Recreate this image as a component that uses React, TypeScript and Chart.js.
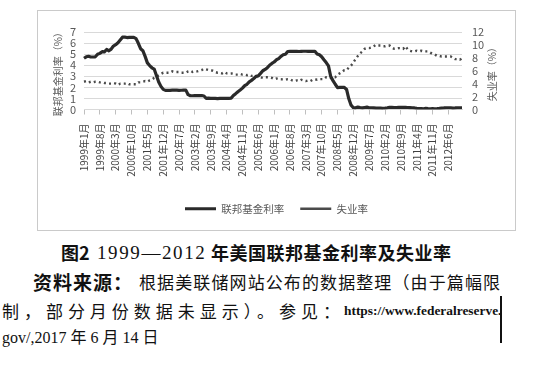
import React, { useEffect, useRef } from "react";
import { Chart, registerables } from "chart.js";

Chart.register(...registerables);

const FONT = "'Noto Sans CJK SC', 'Noto Sans', sans-serif";

// Categories: monthly, 1999-01 .. 2012-12 (a label is shown every 7th month)
const startYear = 1999;
const endYear = 2012;
const monthLabels: string[] = [];
for (let y = startYear; y <= endYear; y++) {
  for (let m = 1; m <= 12; m++) monthLabels.push(`${y}年${m}月`);
}
const labelEvery = 7;

// 联邦基金利率 (%)
const fedFundsRate = [
  4.63, 4.76, 4.81, 4.74, 4.74, 4.76, 4.99, 5.07, 5.22, 5.2, 5.42, 5.3,
  5.45, 5.73, 5.85, 6.02, 6.27, 6.53, 6.54, 6.5, 6.52, 6.51, 6.51, 6.4,
  5.98, 5.49, 5.31, 4.8, 4.21, 3.97, 3.77, 3.65, 3.07, 2.49, 2.09, 1.82,
  1.73, 1.74, 1.73, 1.75, 1.75, 1.75, 1.73, 1.74, 1.75, 1.75, 1.34, 1.24,
  1.24, 1.26, 1.25, 1.26, 1.26, 1.22, 1.01, 1.03, 1.01, 1.01, 1.0, 0.98,
  1.0, 1.01, 1.0, 1.0, 1.0, 1.03, 1.26, 1.43, 1.61, 1.76, 1.93, 2.16,
  2.28, 2.5, 2.63, 2.79, 3.0, 3.04, 3.26, 3.5, 3.62, 3.78, 4.0, 4.16,
  4.29, 4.49, 4.59, 4.79, 4.94, 4.99, 5.24, 5.25, 5.25, 5.25, 5.25, 5.24,
  5.25, 5.26, 5.26, 5.25, 5.25, 5.25, 5.26, 5.02, 4.94, 4.76, 4.49, 4.24,
  3.94, 2.98, 2.61, 2.28, 1.98, 2.0, 2.01, 2.0, 1.81, 0.97, 0.39, 0.16,
  0.15, 0.22, 0.18, 0.15, 0.18, 0.21, 0.16, 0.16, 0.15, 0.12, 0.12, 0.12,
  0.11, 0.13, 0.16, 0.2, 0.2, 0.18, 0.18, 0.19, 0.19, 0.19, 0.19, 0.18,
  0.17, 0.16, 0.14, 0.1, 0.09, 0.09, 0.07, 0.1, 0.08, 0.07, 0.08, 0.07,
  0.08, 0.1, 0.13, 0.14, 0.16, 0.16, 0.16, 0.13, 0.14, 0.16, 0.16, 0.16,
];

// 失业率 (%)
const unemploymentRate = [
  4.3, 4.4, 4.2, 4.3, 4.2, 4.3, 4.3, 4.2, 4.2, 4.1, 4.1, 4.0,
  4.0, 4.1, 4.0, 3.8, 4.0, 4.0, 4.0, 4.1, 3.9, 3.9, 3.9, 3.9,
  4.2, 4.2, 4.3, 4.4, 4.3, 4.5, 4.6, 4.9, 5.0, 5.3, 5.5, 5.7,
  5.7, 5.7, 5.7, 5.9, 5.8, 5.8, 5.8, 5.7, 5.7, 5.7, 5.9, 6.0,
  5.8, 5.9, 5.9, 6.0, 6.1, 6.3, 6.2, 6.1, 6.1, 6.0, 5.8, 5.7,
  5.7, 5.6, 5.8, 5.6, 5.6, 5.6, 5.5, 5.4, 5.4, 5.5, 5.4, 5.4,
  5.3, 5.4, 5.2, 5.2, 5.1, 5.0, 5.0, 4.9, 5.0, 5.0, 5.0, 4.9,
  4.7, 4.8, 4.7, 4.7, 4.6, 4.6, 4.7, 4.7, 4.5, 4.4, 4.5, 4.4,
  4.6, 4.5, 4.4, 4.5, 4.4, 4.6, 4.7, 4.6, 4.7, 4.7, 4.7, 5.0,
  5.0, 4.9, 5.1, 5.0, 5.4, 5.6, 5.8, 6.1, 6.1, 6.5, 6.8, 7.3,
  7.8, 8.3, 8.7, 9.0, 9.4, 9.5, 9.5, 9.6, 9.8, 10.0, 9.9, 9.9,
  9.8, 9.8, 9.9, 9.9, 9.6, 9.4, 9.4, 9.5, 9.5, 9.4, 9.8, 9.3,
  9.1, 9.0, 9.0, 9.1, 9.0, 9.1, 9.0, 9.0, 9.0, 8.8, 8.6, 8.5,
  8.3, 8.3, 8.2, 8.2, 8.2, 8.2, 8.2, 8.0, 7.8, 7.8, 7.7, 7.9,
];

const seriesNames = ["联邦基金利率", "失业率"];
const leftAxisTitle = "联邦基金利率（%）";
const rightAxisTitle = "失业率（%）";
const leftAxisRange = [0, 7, 1];
const rightAxisRange = [0, 12, 2];

const axisTitlePlugin = {
  id: "axisTitles",
  afterDraw(chart: any) {
    const { ctx, chartArea, scales } = chart;
    const cy = (chartArea.top + chartArea.bottom) / 2 + 1;
    ctx.save();
    ctx.font = `10px ${FONT}`;
    ctx.fillStyle = "#595959";
    ctx.textAlign = "center";
    ctx.textBaseline = "middle";
    const items: [number, string][] = [
      [scales.y.left + 20, leftAxisTitle],
      [scales.y1.right - 23, rightAxisTitle],
    ];
    for (const [x, t] of items) {
      ctx.save();
      ctx.translate(x, cy);
      ctx.rotate(-Math.PI / 2);
      ctx.fillText(t, 0, 0);
      ctx.restore();
    }
    ctx.restore();
  },
};

function ChartBox() {
  const ref = useRef<HTMLCanvasElement>(null);
  useEffect(() => {
    if (!ref.current) return;
    const chart = new Chart(ref.current, {
      type: "line",
      data: {
        labels: monthLabels,
        datasets: [
          {
            label: seriesNames[0],
            data: fedFundsRate,
            yAxisID: "y",
            borderColor: "#2a2a2a",
            backgroundColor: "#2a2a2a",
            borderWidth: 3.2,
            pointRadius: 0,
            borderJoinStyle: "round",
            tension: 0,
          },
          {
            label: seriesNames[1],
            data: unemploymentRate,
            yAxisID: "y1",
            borderColor: "#4a4a4a",
            backgroundColor: "#4a4a4a",
            borderWidth: 2.4,
            borderDash: [2, 3.2],
            pointRadius: 0,
            tension: 0,
          },
        ],
      },
      options: {
        animation: false,
        responsive: false,
        layout: { padding: { top: 21, left: 0, right: 0, bottom: 6 } },
        plugins: {
          tooltip: { enabled: false },
          legend: {
            position: "bottom",
            labels: {
              usePointStyle: true,
              pointStyle: "line",
              pointStyleWidth: 31,
              boxHeight: 11,
              padding: 16,
              color: "#595959",
              font: { size: 10.5, family: FONT },
            },
          },
        },
        scales: {
          x: {
            type: "category",
            offset: false,
            grid: {
              drawOnChartArea: false,
              drawTicks: true,
              tickLength: 5,
              color: "#bfbfbf",
            },
            border: { display: true, color: "#d9d9d9" },
            ticks: {
              autoSkip: false,
              maxRotation: 90,
              minRotation: 90,
              padding: 9,
              color: "#404040",
              font: { size: 10, family: FONT },
            },
            afterBuildTicks: (s: any) => {
              s.ticks = s.ticks.filter((t: any) => t.value % labelEvery === 0);
            },
            afterFit: (s: any) => {
              s.height = 78;
            },
          },
          y: {
            position: "left",
            min: leftAxisRange[0],
            max: leftAxisRange[1],
            ticks: {
              stepSize: leftAxisRange[2],
              autoSkip: false,
              padding: 8,
              color: "#595959",
              font: { size: 11, family: FONT },
            },
            grid: { color: "#d9d9d9", drawTicks: false },
            border: { display: false },
            afterFit: (s: any) => {
              s.width = 46;
            },
          },
          y1: {
            position: "right",
            min: rightAxisRange[0],
            max: rightAxisRange[1],
            ticks: {
              stepSize: rightAxisRange[2],
              autoSkip: false,
              padding: 10,
              color: "#595959",
              font: { size: 11, family: FONT },
            },
            grid: { drawOnChartArea: false, drawTicks: false },
            border: { display: false },
            afterFit: (s: any) => {
              s.width = 53;
            },
          },
        },
      },
      plugins: [axisTitlePlugin],
    } as any);
    return () => chart.destroy();
  }, []);
  return (
    <canvas ref={ref} width={477} height={219} style={{ display: "block" }} />
  );
}

const sans = "'Noto Sans CJK SC', sans-serif";
const serif = "'Liberation Serif', 'Noto Sans CJK SC', serif";

function Seg(props: {
  x: number;
  y: number;
  w?: number;
  text: string;
  size: number;
  bold?: boolean;
  family?: string;
  ls?: number;
}) {
  const { x, y, w, text, size, bold, family, ls } = props;
  return (
    <div
      style={{
        position: "absolute",
        left: x,
        top: y - size * 0.7,
        width: w,
        height: size * 1.4,
        lineHeight: `${size * 1.4}px`,
        fontSize: size,
        fontWeight: bold ? 700 : 400,
        fontFamily: family || sans,
        letterSpacing: ls ? `${ls}px` : undefined,
        color: "#111",
        whiteSpace: "nowrap",
        textAlign: w ? "justify" : "left",
        textAlignLast: w ? "justify" : "auto",
      } as any}
    >
      {text}
    </div>
  );
}

export default function App() {
  return (
    <div
      style={{
        position: "absolute",
        left: 0,
        top: 0,
        width: 536,
        height: 366,
        background: "#fff",
        overflow: "hidden",
      }}
    >
      <div
        style={{
          position: "absolute",
          left: 37,
          top: 10,
          width: 477,
          height: 219,
          border: "1px solid #cacaca",
        }}
      >
        <ChartBox />
      </div>
      <Seg x={61} y={253} text="图2" size={18} bold />
      <Seg x={97} y={253} text="1999—2012" size={19} family={serif} ls={1.6} />
      <Seg x={211} y={253} w={240} text="年美国联邦基金利率及失业率" size={18} bold />
      <Seg x={33} y={282} text="资料来源：" size={19} bold ls={1} />
      <Seg x={139} y={282} w={361} text="根据美联储网站公布的数据整理（由于篇幅限" size={17} />
      <Seg x={2} y={311} w={338} text="制，部分月份数据未显示）。参见：" size={17} />
      <Seg x={344} y={311} text="https://www.federalreserve." size={13.4} bold family={serif} />
      <Seg x={2} y={338} text="gov/,2017 年 6 月 14 日" size={16} family={serif} />
      <div
        style={{
          position: "absolute",
          left: 500,
          top: 296,
          width: 2,
          height: 47,
          background: "#111",
        }}
      />
    </div>
  );
}
